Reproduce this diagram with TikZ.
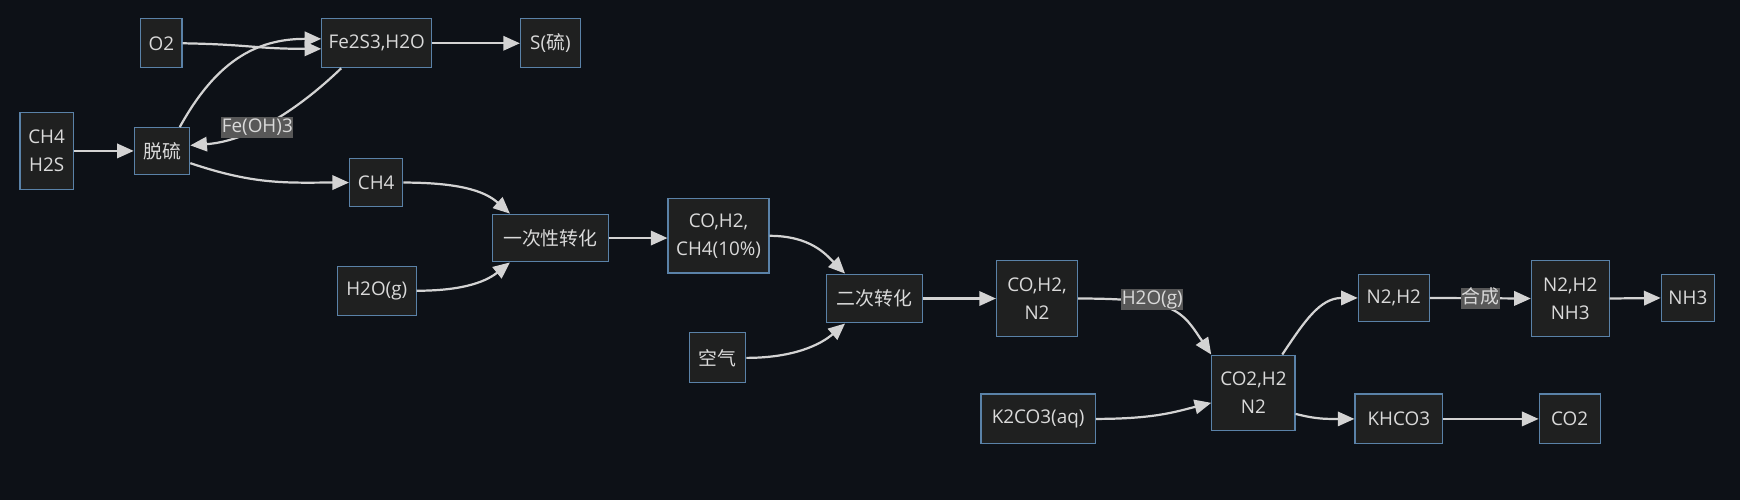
\documentclass[tikz,border=0pt]{standalone}
\usepackage{fontspec}
\setmainfont{Open Sans}
\newfontfamily\cjk{Noto Sans CJK SC}
\usetikzlibrary{arrows.meta}
\definecolor{cfondo}{HTML}{0D1117}
\definecolor{ccaja}{HTML}{1F2020}
\definecolor{cborde}{HTML}{5A82A8}
\definecolor{clinea}{HTML}{D3D3D3}
\definecolor{ctexto}{HTML}{DADADA}
\definecolor{cetiq}{HTML}{585858}

\begin{document}
\begin{tikzpicture}[x=1pt,y=1pt,
    caja/.style={draw=cborde, fill=ccaja, line width=1pt, text=ctexto, inner sep=0pt,
        align=center, font=\fontsize{17}{25}\selectfont},
    flecha/.style={draw=clinea, line width=2pt, -{Triangle[length=15pt,width=13pt]}},
    etiqueta/.style={fill=cetiq, text=ctexto, inner xsep=0.5pt, inner ysep=1pt,
        text height=13pt, text depth=4pt, font=\fontsize{17}{20}\selectfont}]

    % Fondo
    \fill[cfondo] (0,0) rectangle (1568,-451);
    \useasboundingbox (0,0) rectangle (1568,-451);

    % Nodos: desulfuracion
    \node[caja, minimum width=48, minimum height=70] (gas) at (42,-136) {CH4\\H2S};
    \node[caja, minimum width=50, minimum height=42] (desulf) at (146,-136) {{\cjk 脱硫}};
    \node[caja, minimum width=37, minimum height=44] (o2) at (145.5,-39) {O2};
    \node[caja, minimum width=99, minimum height=44] (fes) at (339.5,-39) {Fe2S3,H2O};
    \node[caja, minimum width=54, minimum height=44] (azufre) at (496,-39) {S({\cjk 硫})};
    \node[caja, minimum width=48, minimum height=43] (metano) at (339,-164.5) {CH4};

    % Nodos: conversiones
    \node[caja, minimum width=104, minimum height=43] (primera) at (496,-214.5) {{\cjk 一次性转化}};
    \node[caja, minimum width=71, minimum height=44] (vapor) at (339.5,-262) {H2O(g)};
    \node[caja, minimum width=91, minimum height=67] (gas1) at (647.5,-212.5) {CO,H2,\\CH4(10\%)};
    \node[caja, minimum width=86, minimum height=44] (segunda) at (788,-269) {{\cjk 二次转化}};
    \node[caja, minimum width=51, minimum height=45] (aire) at (646.5,-322.5) {{\cjk 空气}};
    \node[caja, minimum width=73, minimum height=68] (gas2) at (934.5,-269) {CO,H2,\\N2};

    % Nodos: lavado y sintesis
    \node[caja, minimum width=75, minimum height=68] (gas3) at (1129.5,-354) {CO2,H2\\N2};
    \node[caja, minimum width=103, minimum height=45] (carbonato) at (935.5,-377.5) {K2CO3(aq)};
    \node[caja, minimum width=64, minimum height=43] (mezcla) at (1256,-268.5) {N2,H2};
    \node[caja, minimum width=79, minimum height=45] (bicarb) at (1260.5,-377.5) {KHCO3};
    \node[caja, minimum width=70, minimum height=68] (sintesis) at (1415,-269) {N2,H2\\NH3};
    \node[caja, minimum width=55, minimum height=45] (co2) at (1414.5,-377.5) {CO2};
    \node[caja, minimum width=48, minimum height=43] (amoniaco) at (1521,-268.5) {NH3};

    % Flechas: desulfuracion
    \draw[flecha] (gas.east) -- (desulf.west);
    \draw[flecha] (o2.east) .. controls +(60,-1) and +(-60,0) .. ([yshift=-5]fes.west);
    \draw[flecha] ([xshift=16]desulf.north) .. controls +(32,58) and +(-60,0) .. ([yshift=4]fes.west);
    \draw[flecha] ([xshift=-32]fes.south) .. controls +(-37.5,-36) and +(54,4) .. ([yshift=5]desulf.east)
        node[etiqueta, pos=0.6] {Fe(OH)3};
    \draw[flecha] (fes.east) -- (azufre.west);
    \draw[flecha] ([yshift=-11]desulf.east) .. controls +(59,-20) and +(-55,0) .. (metano.west);

    % Flechas: conversiones
    \draw[flecha] (metano.east) .. controls +(57,0) and +(-20,18) .. ([xshift=16]primera.north west);
    \draw[flecha] (vapor.east) .. controls +(45,0) and +(-20,-16) .. ([xshift=16]primera.south west);
    \draw[flecha] (primera.east) -- (primera.east -| gas1.west);
    \draw[flecha] (gas1.east) .. controls +(37,0) and +(-17,17) .. ([xshift=17]segunda.north west);
    \draw[flecha] (aire.east) .. controls +(43,0) and +(-22,-19) .. ([xshift=17]segunda.south west);
    \draw[flecha] (segunda.east) -- (gas2.west);

    % Flechas: lavado y sintesis
    \draw[flecha] (gas2.east) .. controls +(89,0) and +(-27,40) .. (gas3.north west)
        node[etiqueta, pos=0.35, yshift=4] {H2O(g)};
    \draw[flecha] (carbonato.east) .. controls +(53,0) and +(-32,-8) .. ([yshift=-9]gas3.west);
    \draw[flecha] ([xshift=-12]gas3.north east) .. controls +(20,30) and +(-34,0) .. (mezcla.west);
    \draw[flecha] ([yshift=-19]gas3.east) .. controls +(20,-5) and +(-25,0) .. (bicarb.west);
    \draw[flecha] (mezcla.east) -- (sintesis.west) node[etiqueta, midway] {{\cjk 合成}};
    \draw[flecha] (sintesis.east) -- (amoniaco.west);
    \draw[flecha] (bicarb.east) -- (co2.west);
\end{tikzpicture}
\end{document}
